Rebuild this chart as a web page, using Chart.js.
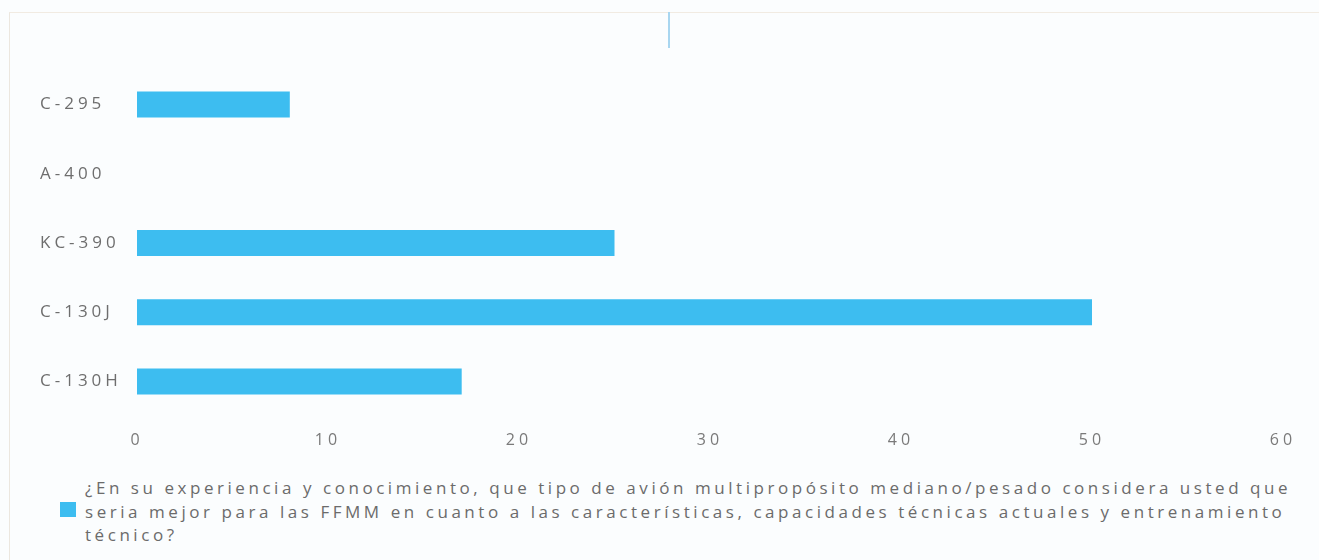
<!DOCTYPE html>
<html>
<head>
<meta charset="utf-8">
<script src="https://cdn.jsdelivr.net/npm/chart.js@4.4.0/dist/chart.umd.min.js"></script>
<style>
  html, body { margin: 0; padding: 0; background: #fbfdfe; }
  #wrap { position: relative; width: 1319px; height: 560px; overflow: hidden; }
  #frame { position: absolute; left: 9px; top: 12px; right: -5px; bottom: -5px;
           border-left: 1px solid #ece7df; border-top: 1px solid #f1ebe2; }
  #mark { position: absolute; left: 668px; top: 12px; width: 2px; height: 36px; background: #a8d6f0; }
  #box { position: relative; width: 1319px; height: 460px; }
  #legend { position: absolute; left: 60px; top: 476px; width: 1259px;
            font-family: "Open Sans", sans-serif; font-size: 17px; letter-spacing: 3.55px;
            line-height: 23.5px; color: #6b6b6b; }
  #legend .sw { position: absolute; left: 0; top: 26px; width: 16px; height: 15px; background: #3dbdf0; }
  #legend .txt { margin-left: 25px; white-space: nowrap; }
</style>
</head>
<body>
<div id="wrap">
  <div id="frame"></div>
  <div id="box"><canvas id="chart"></canvas></div>
  <div id="mark"></div>
  <div id="legend">
    <span class="sw"></span>
    <div class="txt" id="legendText"></div>
  </div>
</div>
<script>
const categories = ["C-295", "A-400", "KC-390", "C-130J", "C-130H"];
const values = [8, 0, 25, 50, 17];
const xTicks = [0, 10, 20, 30, 40, 50, 60];
const seriesLabel = [
  "¿En su experiencia y conocimiento, que tipo de avión multipropósito mediano/pesado considera usted que",
  "seria mejor para las FFMM en cuanto a las características, capacidades técnicas actuales y entrenamiento",
  "técnico?"
];

document.getElementById("legendText").innerHTML = seriesLabel.join("<br>");

// wide letter spacing like the original labels
const spacing = {
  id: "spacing",
  beforeInit(chart) { chart.ctx.letterSpacing = "4px"; },
  beforeLayout(chart) { chart.ctx.letterSpacing = "4px"; },
  beforeDraw(chart) { chart.ctx.letterSpacing = "4px"; }
};

new Chart(document.getElementById("chart"), {
  type: "bar",
  data: {
    labels: categories,
    datasets: [
      {
        label: seriesLabel.join(" "),
        data: values,
        backgroundColor: "#3dbdf0",
        barThickness: 26,
        inflateAmount: 0,
      },
    ],
  },
  options: {
    indexAxis: "y",
    responsive: true,
    maintainAspectRatio: false,
    animation: false,
    layout: { padding: { left: 40, right: 36, top: 70, bottom: 4 } },
    plugins: {
      legend: { display: false },
      tooltip: { enabled: false },
    },
    scales: {
      x: {
        min: 0,
        max: 60,
        afterBuildTicks: (s) => { s.ticks = xTicks.map((v) => ({ value: v })); },
        afterFit: (s) => { s.height = 40; },
        grid: { display: false, drawTicks: false },
        border: { display: false },
        ticks: { padding: 15, color: "#7a7a7a", font: { family: "Open Sans", size: 16 } },
      },
      y: {
        afterFit: (s) => { s.width = 97; },
        grid: { display: false, drawTicks: false },
        border: { display: false },
        ticks: { crossAlign: "far", color: "#6e6e6e", font: { family: "Open Sans", size: 17 } },
      },
    },
  },
  plugins: [spacing],
});
</script>
</body>
</html>
